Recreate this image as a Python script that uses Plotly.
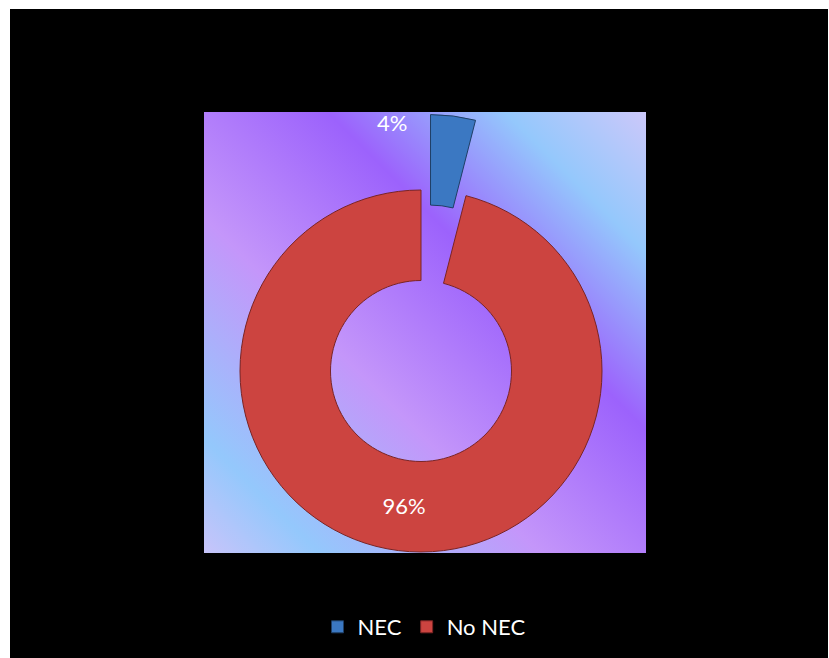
import base64
import plotly.graph_objects as go

# ---- data ----
categories = ["NEC", "No NEC"]
values = [4, 96]
slice_colors = ["#3b78c2", "#cc4440"]
edge_colors = ["#1f3f66", "#7a2424"]

W, H = 829, 658
FONT = "Lato"


def px(x):
    return x / W


def py(y):
    return 1 - y / H


total = sum(values)
pct = [round(100 * v / total) for v in values]

# gradient background of the plot area
stops = [
    (0.00, "#c8c4fa"),
    (0.13, "#94c8fc"),
    (0.38, "#c496fa"),
    (0.64, "#9c62fc"),
    (0.84, "#94c8fc"),
    (1.00, "#ccc8fa"),
]
stop_xml = "".join(f'<stop offset="{o}" stop-color="{c}"/>' for o, c in stops)
svg = (
    '<svg xmlns="http://www.w3.org/2000/svg" width="442" height="441">'
    '<defs><linearGradient id="g" x1="0" y1="1" x2="1" y2="0">'
    f'{stop_xml}</linearGradient></defs>'
    '<rect width="442" height="441" fill="url(#g)"/></svg>'
)
src = "data:image/svg+xml;base64," + base64.b64encode(svg.encode()).decode()

# pie geometry (page pixels)
cx, cy, r_out = 421, 371, 181
pull = [0.42, 0]
half = r_out * (1 + max(pull))

fig = go.Figure(
    go.Pie(
        labels=categories,
        values=values,
        hole=0.5,
        sort=False,
        direction="clockwise",
        rotation=0,
        pull=pull,
        marker=dict(colors=slice_colors, line=dict(color=edge_colors, width=1)),
        textinfo="percent",
        texttemplate="%{percent:.0%}",
        textposition=["none", "inside"],
        insidetextorientation="horizontal",
        insidetextfont=dict(family=FONT, size=22, color="white"),
        domain=dict(
            x=[px(cx - half), px(cx + half)],
            y=[py(cy + half), py(cy - half)],
        ),
        showlegend=True,
        hoverinfo="label+percent",
    )
)

fig.add_annotation(
    x=px(392), y=py(122), xref="paper", yref="paper",
    text=f"{pct[0]}%", showarrow=False,
    font=dict(family=FONT, size=22, color="white"),
    xanchor="center", yanchor="middle",
)

fig.update_layout(
    width=W, height=H,
    margin=dict(l=0, r=0, t=0, b=0, autoexpand=False),
    paper_bgcolor="black",
    images=[dict(
        source=src, xref="paper", yref="paper",
        x=px(204), y=py(112), sizex=442 / W, sizey=441 / H,
        xanchor="left", yanchor="top", sizing="stretch", layer="below",
    )],
    shapes=[
        dict(type="rect", xref="paper", yref="paper", x0=0, x1=px(10), y0=0, y1=1,
             fillcolor="white", line=dict(width=0), layer="below"),
        dict(type="rect", xref="paper", yref="paper", x0=0, x1=1, y0=py(9), y1=1,
             fillcolor="white", line=dict(width=0), layer="below"),
        dict(type="rect", xref="paper", yref="paper", x0=px(828), x1=1, y0=0, y1=1,
             fillcolor="white", line=dict(width=0), layer="below"),
    ],
    legend=dict(
        orientation="h", x=px(424), xanchor="center", y=py(627), yanchor="middle",
        font=dict(family=FONT, size=22, color="white"), bgcolor="rgba(0,0,0,0)",
        traceorder="normal",
    ),
    font=dict(family=FONT),
)

fig.write_html(
    "out.html",
    config={"displayModeBar": False},
    post_script="document.body.style.margin='0';document.body.style.overflow='hidden';",
)
